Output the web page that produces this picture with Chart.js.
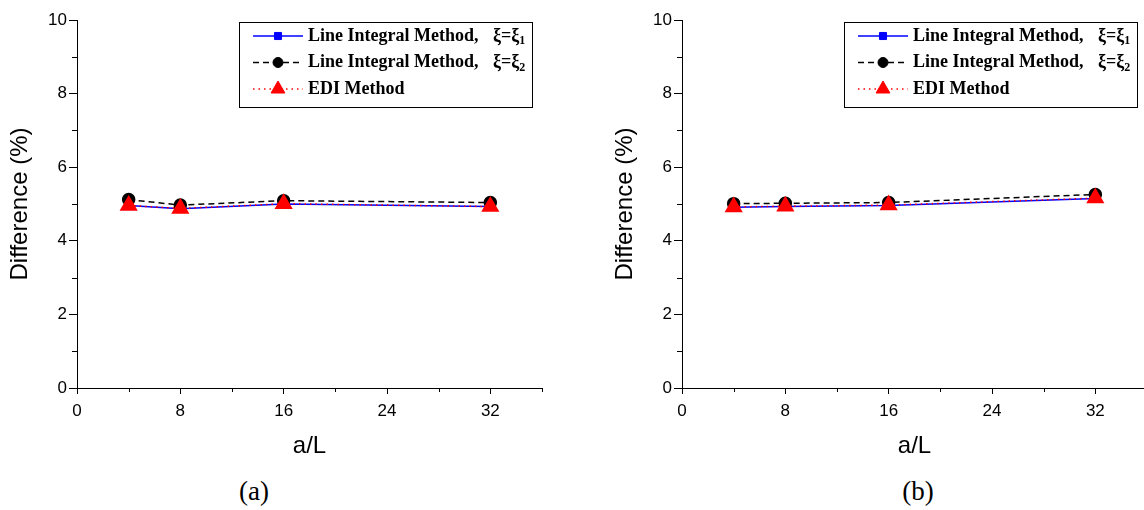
<!DOCTYPE html>
<html>
<head>
<meta charset="utf-8">
<script src="https://cdn.jsdelivr.net/npm/chart.js@4.4.1/dist/chart.umd.min.js"></script>
<style>
  html, body { margin: 0; padding: 0; background: #fff; overflow: hidden; }
  #wrap { position: relative; width: 1144px; height: 510px; overflow: hidden; }
  .panel { position: absolute; top: 0; width: 572px; height: 470px; }
  .tag { position: absolute; top: 476px; font: 27px "Liberation Serif", "Times New Roman", serif; transform: translateX(-50%); }
</style>
</head>
<body>
<div id="wrap">
  <div class="panel" style="left:0"><canvas id="chartA" width="572" height="470"></canvas></div>
  <div class="panel" style="left:605px"><canvas id="chartB" width="572" height="470"></canvas></div>
  <div class="tag" style="left:254px">(a)</div>
  <div class="tag" style="left:918px">(b)</div>
</div>
<script>
// a/L values shared by both panels
const aL = [4, 8, 16, 32];

// panel (a)
const lineXi1A = [4.96, 4.87, 5.00, 4.93];
const lineXi2A = [5.12, 4.97, 5.09, 5.04];
const ediA = [4.96, 4.88, 5.01, 4.93];

// panel (b)
const lineXi1B = [4.91, 4.93, 4.96, 5.15];
const lineXi2B = [5.01, 5.02, 5.04, 5.26];
const ediB = [4.92, 4.94, 4.97, 5.16];

const xMajor = [0, 8, 16, 24, 32];
const xMinor = [4, 12, 20, 28, 36];
const yMajor = [0, 2, 4, 6, 8, 10];
const yMinor = [1, 3, 5, 7, 9];

const legendNames = ['Line Integral Method,', 'Line Integral Method,', 'EDI Method'];
const legendSubs = ['1', '2', null];

const sans = '"Liberation Sans", Arial, sans-serif';
const serif = '"Liberation Serif", "Times New Roman", serif';

function points(ys) {
  return aL.map((x, i) => ({ x, y: ys[i] }));
}

const minorTicks = {
  id: 'minorTicks',
  afterDraw(chart) {
    const { ctx } = chart;
    const xs = chart.scales.x;
    const ys = chart.scales.y;
    ctx.save();
    ctx.strokeStyle = '#000';
    ctx.lineWidth = 1;
    ctx.beginPath();
    for (const v of xMinor) {
      const px = Math.round(xs.getPixelForValue(v)) + 0.5;
      ctx.moveTo(px, xs.top);
      ctx.lineTo(px, xs.top + 4);
    }
    for (const v of yMinor) {
      const py = Math.round(ys.getPixelForValue(v)) + 0.5;
      ctx.moveTo(ys.right, py);
      ctx.lineTo(ys.right - 5, py);
    }
    ctx.stroke();
    ctx.restore();
  },
};

const boxLegend = {
  id: 'boxLegend',
  afterDraw(chart) {
    const { ctx, chartArea } = chart;
    const left = Math.round(chartArea.right - 303);
    const top = Math.round(chartArea.top + 2);
    ctx.save();
    ctx.strokeStyle = '#000';
    ctx.lineWidth = 1;
    ctx.strokeRect(left + 0.5, top + 0.5, 293, 85);

    chart.data.datasets.forEach((ds, i) => {
      const y = top + 14 + i * 26.5;
      ctx.beginPath();
      ctx.setLineDash(ds.borderDash || []);
      ctx.strokeStyle = ds.borderColor;
      ctx.lineWidth = ds.borderWidth;
      ctx.moveTo(left + 14, y);
      ctx.lineTo(left + 64, y);
      ctx.stroke();
      ctx.setLineDash([]);

      ctx.fillStyle = ds.pointBackgroundColor;
      ctx.strokeStyle = ds.pointBorderColor;
      ctx.lineWidth = 1;
      Chart.helpers.drawPoint(ctx, {
        pointStyle: ds.pointStyle,
        radius: ds.legendRadius,
        rotation: 0,
        borderWidth: 1,
      }, left + 39, y);

      ctx.fillStyle = '#000';
      ctx.textBaseline = 'middle';
      ctx.textAlign = 'left';
      ctx.font = 'bold 18px ' + serif;
      ctx.fillText(legendNames[i], left + 69, y);
      if (legendSubs[i]) {
        const xx = left + 254;
        ctx.fillText('\u03BE=\u03BE', xx, y);
        const w = ctx.measureText('\u03BE=\u03BE').width;
        ctx.font = 'bold 12px ' + serif;
        ctx.fillText(legendSubs[i], xx + w, y + 5);
      }
    });
    ctx.restore();
  },
};

function makeChart(canvasId, xi1, xi2, edi) {
  return new Chart(document.getElementById(canvasId), {
    type: 'line',
    data: {
      datasets: [
        {
          data: points(xi1),
          borderColor: '#0000ff',
          borderWidth: 1.5,
          pointStyle: 'rect',
          pointRadius: 5,
          pointBackgroundColor: '#0000ff',
          pointBorderColor: '#0000ff',
          legendRadius: 5,
          order: 3,
        },
        {
          data: points(xi2),
          borderColor: '#000000',
          borderWidth: 1.5,
          borderDash: [6, 4],
          pointStyle: 'circle',
          pointRadius: 6,
          pointBackgroundColor: '#000000',
          pointBorderColor: '#000000',
          legendRadius: 5,
          order: 2,
        },
        {
          data: points(edi),
          borderColor: '#ff0000',
          borderWidth: 1.5,
          borderDash: [1.5, 4],
          pointStyle: 'triangle',
          pointRadius: 9,
          pointBackgroundColor: '#ff0000',
          pointBorderColor: '#ff0000',
          legendRadius: 8,
          order: 1,
        },
      ],
    },
    options: {
      responsive: false,
      animation: false,
      layout: { padding: { top: 20, right: 30, left: 0, bottom: 0 } },
      plugins: {
        legend: { display: false },
        tooltip: { enabled: false },
      },
      scales: {
        x: {
          type: 'linear',
          min: 0,
          max: 36,
          afterBuildTicks: (s) => { s.ticks = xMajor.map((v) => ({ value: v })); },
          afterFit: (s) => { s.height = 82; },
          ticks: { color: '#000', font: { family: sans, size: 17 }, padding: 7, maxRotation: 0, autoSkip: false },
          grid: { drawOnChartArea: false, tickLength: 6, color: '#000' },
          border: { color: '#000', width: 1 },
          title: { display: true, text: 'a/L', color: '#000', font: { family: sans, size: 24 }, padding: { top: 0, bottom: 9 } },
        },
        y: {
          min: 0,
          max: 10,
          afterBuildTicks: (s) => { s.ticks = yMajor.map((v) => ({ value: v })); },
          afterFit: (s) => { s.width = 77; },
          ticks: { color: '#000', font: { family: sans, size: 17 }, padding: 2 },
          grid: { drawOnChartArea: false, tickLength: 8, color: '#000' },
          border: { color: '#000', width: 1 },
          title: { display: true, text: 'Difference (%)', color: '#000', font: { family: sans, size: 24 }, padding: { top: 6, bottom: 0 } },
        },
      },
    },
    plugins: [minorTicks, boxLegend],
  });
}

makeChart('chartA', lineXi1A, lineXi2A, ediA);
makeChart('chartB', lineXi1B, lineXi2B, ediB);
</script>
</body>
</html>
